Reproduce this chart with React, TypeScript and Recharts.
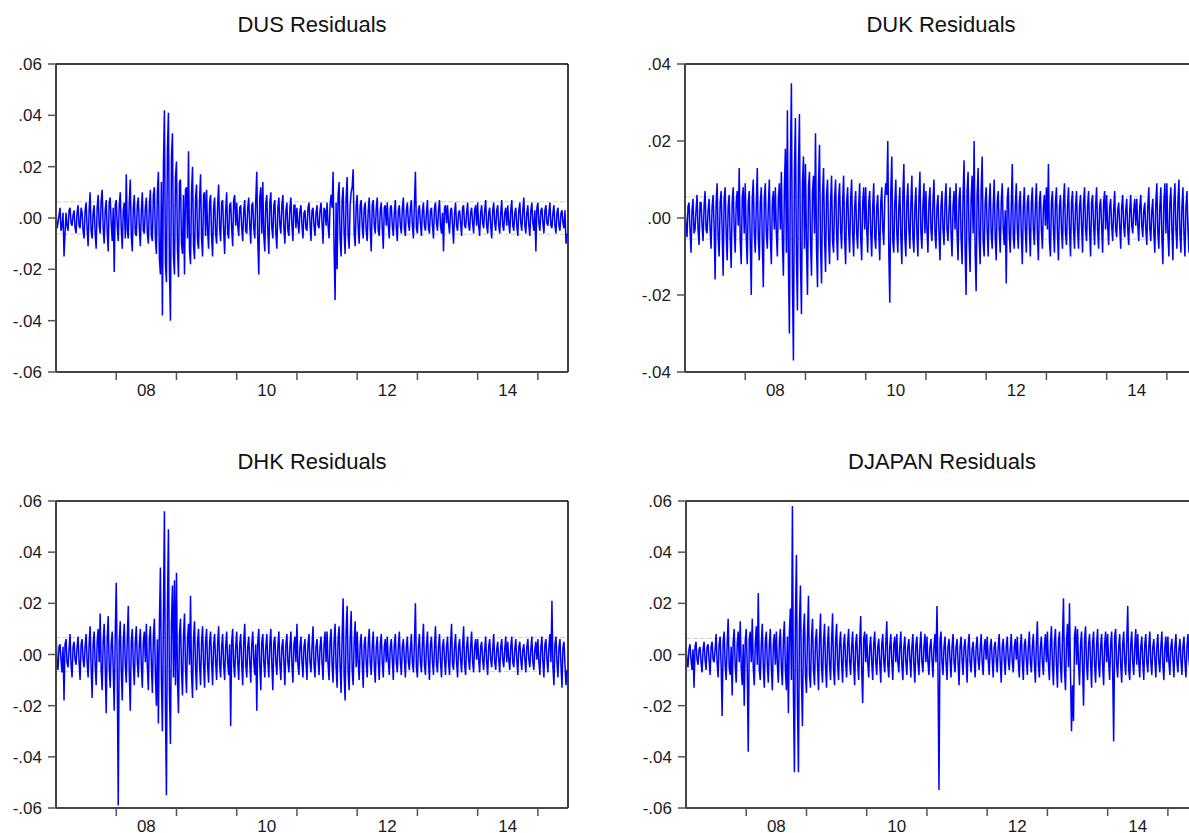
import React from 'react';
import { LineChart, Line, XAxis, YAxis, ReferenceLine } from 'recharts';

const FONT = '"Liberation Sans", Arial, sans-serif';
const START_YEAR = 2007;
const END_YEAR = 2015.5;
const PER_YEAR = 60; // traced points per year

// residuals in thousandths, one row = half a year (30 points), from 2007
const dusResiduals = [
  3, -4, -2, 1, 4, -5, -3, 2, -15, -6, 2, -3, -5, 3, 4, -2, -3, 1, 3, -4, -6, 2, 5, -3, -4, 4, 2, -5, -8, 3,
  6, -4, -11, 3, 10, -5, -8, 2, 5, -6, -12, 4, 9, -3, -6, 7, 11, -4, -10, 3, 7, -5, -13, 6, 8, -2, -9, 4, -21, 5,
  7, -3, -9, 5, 10, -4, -12, 3, 6, -8, 17, -5, -8, 6, 15, -7, -13, 4, 9, -6, -7, 5, 8, -4, -11, 3, 10, -5, -6, 4,
  8, -6, -10, 5, 11, -7, -9, 9, 12, -8, -14, 10, 18, -16, -22, 14, -38, 20, 42, -18, -25, 27, 41, -20, -40, 24, 33, -15, -22, 16,
  22, -12, -23, 14, 15, -10, -14, 9, -22, 11, 12, -8, 26, -13, -18, 10, 20, -11, -16, 8, 13, -9, -12, 7, 17, -8, -15, 9, 10, -7,
  11, -5, -12, 6, 9, -7, -15, 4, 8, -6, -10, 5, 13, -4, -9, 6, 7, -5, -14, 3, 10, -6, -8, 5, 6, -4, -11, 7, 9, -3,
  6, -3, -7, 4, 5, -4, -9, 3, 7, -5, -6, 4, 8, -3, -10, 5, 6, -4, -8, 7, 18, -9, -22, 8, 12, -6, 14, -7, -13, 6,
  9, -5, -14, 6, 10, -4, -8, 5, 7, -6, -12, 4, 8, -3, -6, 5, 9, -4, -10, 3, 6, -5, -7, 4, 8, -3, -9, 5, 5, -4,
  4, -2, -6, 3, 5, -3, -8, 2, 3, -4, -5, 4, 6, -2, -9, 3, 4, -3, -7, 2, 5, -3, -4, 3, 6, -2, -10, 4, 3, -3,
  6, -3, -8, 5, 9, 4, 18, -12, -32, 6, -20, 9, 14, -8, -15, 7, 12, -6, -14, 8, 16, -7, -12, 5, 10, 12, 19, -6, -11, 5,
  9, -4, -10, 5, 7, -3, -8, 4, 6, -5, -9, 3, 8, -4, -13, 5, 7, -3, -6, 4, 8, -5, -7, 3, 6, -4, -12, 4, 5, -3,
  6, -3, -8, 4, 5, -3, -7, 2, 7, -4, -9, 3, 5, -3, -6, 4, 8, -4, -7, 3, 6, -2, -5, 4, 7, -3, -8, 5, 18, -4,
  -6, 3, 5, -2, -7, 3, 6, -3, -5, 2, 7, -4, -6, 3, 4, -3, -8, 4, 6, -2, -5, 3, 7, -3, -6, 2, -13, 4, 5, -2,
  5, -2, -6, 3, 4, -3, -10, 2, 6, -3, -5, 2, 3, -2, -7, 4, 5, -3, -4, 2, 6, -3, -5, 2, 4, -2, -6, 3, 5, -3,
  6, -3, -7, 2, 5, -2, -4, 3, 7, -3, -6, 2, 4, -3, -8, 3, 6, -2, -5, 3, 5, -3, -6, 2, 7, -3, -5, 2, 4, -3,
  5, -2, -6, 3, 7, -3, -5, 2, 4, -3, -7, 3, 6, -2, -5, 3, 8, -3, -6, 2, 5, -3, -7, 3, 6, -2, -5, 3, -13, 4,
  6, -2, -5, 3, 4, -2, -6, 3, 5, -2, -3, 2, 6, -3, -4, 2, 5, -3, -6, 2, 4, -3, -5, 2, 3, -2, -4, 3, -10, -6,
];

const dukResiduals = [
  3, -2, -5, 3, 4, -3, -9, 2, 5, -4, -3, 2, 6, -3, -7, 4, 4, -2, -6, 3, 7, -3, -4, 2, 5, -3, -8, 3, 6, -2,
  -16, 4, 9, -5, -10, 4, 7, -3, -15, 5, 8, -4, -11, 3, 6, -5, -13, 4, 8, -3, -9, 4, 7, -2, 13, -6, -12, 5, 8, -4,
  9, -5, -12, 4, 7, -6, -20, 5, 10, -4, -9, 3, 13, -5, -11, 4, 8, -6, -18, 5, 9, -4, -8, 3, 10, -5, -12, 4, 7, -3,
  8, -4, -10, 5, 9, -3, 12, -6, -15, 8, 18, -9, 28, -12, -30, 14, 35, -16, -37, 12, 26, -10, -24, 13, 27, -11, -25, 9, 16, -8,
  14, -7, -20, 8, 12, -6, -15, 7, 11, -4, 22, -8, -18, 9, 19, -7, -17, 6, 13, -5, -14, 6, 10, -5, -12, 4, 11, -6, -9, 5,
  10, -4, -11, 5, 9, -3, -8, 4, 11, -5, -12, 4, 8, -3, -9, 5, 10, -4, -10, 3, 7, -4, -8, 3, 9, -5, -11, 4, 8, -3,
  8, -3, -9, 4, 7, -4, -10, 3, 9, -5, -8, 3, 6, -4, -11, 4, 8, -3, -7, 5, 9, 6, 20, -9, -22, 7, 16, -6, -9, 4,
  10, -4, -9, 3, 8, -5, -12, 6, 14, -5, -10, 4, 9, -3, -8, 4, 11, -5, -9, 3, 8, -4, -10, 5, 12, -4, -8, 3, 9, -4,
  7, -3, -9, 4, 8, -3, -6, 4, 10, -4, -8, 3, 6, -4, -11, 3, 7, -3, -7, 4, 9, -3, -6, 2, 8, -4, -10, 3, 7, -3,
  9, -4, -11, 5, 8, -5, -12, 6, 15, -8, -20, 7, 12, -6, -14, 5, 11, -4, 20, -9, -19, 6, 13, -5, -12, 7, 16, -6, -10, 4,
  8, -3, -10, 4, 9, -4, -8, 3, 10, -5, -11, 4, 7, -3, -9, 4, 9, -3, -7, 2, -17, 5, 8, -4, -9, 3, 14, -5, -8, 3,
  9, -3, -8, 4, 7, -4, -12, 3, 8, -3, -9, 4, 6, -3, -10, 4, 8, -3, -7, 3, 9, -4, -11, 4, 7, -3, -8, 3, 6, -2,
  8, -3, 14, -6, -10, 4, 7, -3, -9, 4, 8, -4, -11, 3, 6, -3, -8, 4, 9, -4, -7, 3, 8, -3, -10, 4, 7, -3, -8, 3,
  7, -3, -8, 3, 6, -2, -9, 4, 8, -3, -6, 3, 7, -3, -10, 4, 6, -2, -7, 3, 8, -3, -8, 3, 5, -2, -9, 4, 7, -3,
  6, -2, -7, 3, 5, -2, -6, 2, 7, -3, -5, 2, 4, -2, -8, 3, 6, -2, -5, 2, 5, -3, -7, 2, 6, -2, -4, 2, 5, -2,
  5, -2, -6, 3, 6, -2, -5, 2, 4, -3, -7, 3, 8, -3, -6, 2, 5, -4, -9, 4, 9, -4, -8, 3, 8, -5, -12, 4, 9, -4,
  9, -4, -10, 4, 8, -3, -11, 4, 9, -3, -8, 4, 10, -4, -9, 3, 8, -4, -10, 3, 7, -3, -9, 4, 9, -3, -6, 4, 10, -4,
];

const dhkResiduals = [
  10, -3, -6, 3, 4, -2, -7, 3, -18, 4, 6, -3, -5, 2, 8, -4, -9, 3, 5, -2, -4, 3, 7, -3, -10, 4, 6, -2, -5, 3,
  8, -3, -9, 4, 11, -5, -17, 4, 9, -4, -12, 5, 10, -3, 16, -6, -14, 5, 12, -4, -23, 6, 15, -5, -13, 4, 9, -6, -22, 7,
  28, -6, -59, 5, 13, -6, -18, 5, 12, -4, -11, 6, 19, -7, -22, 5, 10, -4, -12, 5, 11, -3, -9, 4, 10, -4, -13, 5, 9, -3,
  12, -5, -14, 6, 11, -4, -15, 7, 14, -8, -20, 6, -27, 12, 34, -10, -30, 15, 56, -20, -55, 18, 49, -15, -35, 12, 27, -9, 29, -12,
  32, -10, -23, 8, 14, -6, -16, 7, 16, -5, -15, 6, 12, -4, 23, -8, -17, 6, 13, -5, -14, 5, 10, -4, -12, 5, 11, -4, -13, 5,
  10, -4, -11, 5, 9, -3, -12, 4, 8, -3, -10, 4, 11, -4, -9, 3, 8, -4, -10, 3, 9, -3, -8, 4, -28, 5, 10, -4, -9, 3,
  9, -3, -10, 4, 8, -4, -12, 5, 12, -4, -9, 3, 7, -3, -11, 4, 9, -3, -8, 4, -22, 5, 10, -4, -14, 5, 8, -3, -9, 3,
  8, -3, -9, 4, 10, -4, -14, 5, 7, -3, -8, 3, 9, -4, -10, 3, 6, -3, -12, 4, 8, -3, -7, 3, 9, -4, -11, 4, 7, -3,
  12, -4, -8, 3, 7, -3, -9, 3, 6, -3, -10, 4, 8, -3, -7, 3, 11, -4, -9, 3, 6, -2, -8, 3, 7, -3, -10, 4, 9, -3,
  9, -4, -10, 5, 10, -4, -11, 5, 12, -5, -13, 6, 11, -5, -15, 7, 22, -8, -18, 9, 19, -7, -14, 6, 17, -6, -12, 5, 13, -5,
  9, -3, -10, 4, 8, -3, -13, 4, 7, -3, -9, 4, 10, -3, -8, 3, 9, -4, -11, 3, 7, -3, -10, 4, 8, -3, -9, 3, 6, -3,
  7, -3, -8, 3, 6, -2, -10, 4, 8, -3, -7, 3, 9, -3, -8, 3, 6, -2, -9, 3, 7, -3, -6, 2, 8, -3, -7, 4, 20, -5,
  -9, 3, 8, -3, -7, 4, 12, -4, -8, 3, 9, -3, -10, 4, 7, -3, -8, 3, 11, -4, -7, 3, 8, -3, -9, 3, 6, -2, -8, 3,
  7, -3, -8, 4, 12, -4, -6, 3, 8, -3, -9, 3, 6, -2, -7, 3, 11, -4, -8, 3, 7, -2, -6, 3, 9, -3, -7, 3, 6, -2,
  6, -2, -7, 3, 5, -2, -6, 2, 7, -3, -8, 3, 6, -2, -5, 2, 8, -3, -6, 2, 5, -2, -7, 3, 6, -2, -5, 2, 7, -3,
  5, -2, -6, 3, 7, -3, -5, 2, 6, -2, -8, 3, 5, -2, -6, 2, 4, -2, -7, 3, 6, -2, -5, 2, 7, -3, -6, 2, 5, -2,
  6, -3, -8, 3, 7, -3, -9, 4, 6, -2, -7, 3, 8, -3, 21, -5, -12, 4, 7, -3, -9, 3, 6, -4, -13, 3, 5, -4, -12, -6,
];

const djapanResiduals = [
  3, -2, -5, 2, 4, -2, -6, 2, -13, 3, 5, -2, -4, 2, 3, -3, -7, 2, 5, -2, -6, 3, 4, -2, -8, 3, 5, -2, -3, 2,
  8, -3, -9, 4, 7, -4, -24, 5, 9, -4, -10, 4, 14, -5, -8, 3, -16, 5, 10, -4, -11, 4, 9, -3, 13, -5, -12, 4, -20, 5,
  10, -5, -38, 6, 9, -3, 14, -5, -12, 4, 11, -4, 24, -6, -10, 4, 12, -5, -13, 5, 9, -4, -11, 4, 10, -5, -14, 4, 8, -4,
  9, -4, -11, 5, 10, -5, -12, 6, 13, -6, -14, 7, -23, 9, 18, -10, 58, -15, -46, 14, 39, -18, -46, 12, 27, -10, -28, 9, 16, -8,
  -15, 7, 23, -8, -13, 6, 14, -6, -12, 5, 10, -4, -14, 6, 16, -5, -11, 5, 12, -5, -13, 4, 11, -4, -10, 5, 16, -6, -12, 5,
  12, -4, -10, 4, 9, -3, -11, 4, 8, -3, -9, 4, 10, -3, -8, 3, 9, -4, -12, 4, 8, -3, -10, 5, 15, -6, -19, 6, 9, -3,
  8, -3, -9, 3, 7, -3, -10, 4, 9, -3, -8, 3, 6, -3, -11, 4, 8, -3, -7, 4, 13, -4, -9, 3, 8, -3, -10, 4, 7, -3,
  8, -3, -7, 3, 9, -4, -10, 3, 7, -3, -8, 3, 6, -2, -9, 3, 8, -4, -11, 4, 7, -3, -8, 3, 9, -3, -7, 3, 8, -3,
  7, -3, -8, 3, 6, -2, -9, 3, 8, -3, 19, -6, -53, 5, 9, -3, -8, 3, 7, -3, -10, 3, 6, -2, -9, 3, 8, -3, -7, 3,
  6, -3, -12, 3, 7, -2, -8, 3, 6, -2, -11, 3, 8, -3, -7, 2, 5, -2, -9, 3, 7, -2, -6, 2, 8, -3, -8, 3, 6, -2,
  7, -2, -8, 3, 6, -2, -9, 3, 5, -2, -7, 3, 8, -3, -11, 3, 6, -2, -8, 3, 7, -2, -6, 2, 8, -3, -7, 3, 6, -2,
  7, -3, -9, 3, 8, -3, -10, 4, 6, -2, -8, 3, 9, -3, -7, 3, 8, -3, -11, 4, 13, -4, -9, 3, 7, -3, -8, 3, 8, -3,
  9, -4, -10, 4, 11, -4, -12, 5, 10, -4, -13, 5, 9, -4, -11, 6, 22, -6, -14, 5, 12, -5, 20, -8, -30, -12, -26, 7, 11, -4,
  10, -4, -12, 4, 9, -5, -20, 6, 11, -4, -10, 4, 8, -3, -13, 5, 9, -4, -11, 4, 10, -4, -9, 3, 8, -4, -12, 4, 9, -3,
  8, -3, -10, 4, 9, -6, -34, 7, 10, -4, -9, 3, 8, -4, -11, 4, 9, -3, -8, 5, 19, -6, -10, 4, 9, -3, -8, 3, 10, -4,
  8, -3, -9, 3, 7, -3, -10, 4, 8, -3, -7, 3, 9, -3, -8, 3, 6, -2, -9, 3, 8, -3, -7, 3, 9, -4, -10, 3, 7, -3,
  7, -3, -8, 3, 6, -2, -9, 3, 8, -3, -7, 2, 6, -2, -8, 3, 7, -3, -9, 3, 8, -2, -6, 2, 7, -3, -8, -4, -11, -5,
];

const titles = ['DUS Residuals', 'DUK Residuals', 'DHK Residuals', 'DJAPAN Residuals'];
// +/- one standard error, thousandths
const seBands = [6.3, 5.5, 6.6, 6.3];
const yTicksWide = [-60, -40, -20, 0, 20, 40, 60];
const yTicksUk = [-40, -20, 0, 20, 40];
const yearTicks = [2008, 2009, 2010, 2011, 2012, 2013, 2014, 2015];
const yearLabels = [2008, 2010, 2012, 2014];

const AXIS_W = 56;
const PAD_TOP = 10;
const X_AXIS_H = 40;
const PLOT_W = 512;

const fmtY = (v: number) => {
  if (v === 0) return '.00';
  const s = (v / 1000).toFixed(2);
  return s.replace('0.', '.');
};

function YearTick(props: any) {
  const { x, y, payload } = props;
  const v = payload.value as number;
  if (Number.isInteger(v)) {
    return <line x1={x} x2={x} y1={y} y2={y + 8} stroke="#555" strokeWidth={1.5} />;
  }
  return (
    <text x={x} y={y + 24} textAnchor="middle" fontSize={17} fontFamily={FONT} fill="#1a1a1a">
      {String(Math.floor(v)).slice(2)}
    </text>
  );
}

interface PanelProps {
  title: string;
  values: number[];
  ticks: number[];
  se: number;
  left: number;
  top: number;
  height: number;
}

function Panel({ title, values, ticks, se, left, top, height }: PanelProps) {
  const data = values.map((v, i) => ({ t: START_YEAR + i / PER_YEAR, v }));
  const yMax = ticks[ticks.length - 1];
  const xTicks = [...yearTicks, ...yearLabels.map((y) => y + 0.5)].sort((a, b) => a - b);
  return (
    <>
      <div
        style={{
          position: 'absolute',
          left,
          top: top - 50,
          width: PLOT_W,
          textAlign: 'center',
          fontSize: 22,
          lineHeight: '21px',
          color: '#111',
        }}
      >
        {title}
      </div>
      <div style={{ position: 'absolute', left: left - AXIS_W, top: top - PAD_TOP }}>
        <LineChart
          width={PLOT_W + AXIS_W + 4}
          height={height + PAD_TOP + X_AXIS_H}
          data={data}
          margin={{ top: PAD_TOP, right: 4, bottom: 0, left: 0 }}
        >
          <XAxis
            dataKey="t"
            type="number"
            domain={[START_YEAR, END_YEAR]}
            ticks={xTicks}
            interval={0}
            height={X_AXIS_H}
            tickSize={0}
            tickMargin={0}
            tickLine={false}
            axisLine={{ stroke: '#444', strokeWidth: 2 }}
            tick={<YearTick />}
            allowDataOverflow
          />
          <YAxis
            type="number"
            domain={[ticks[0], yMax]}
            ticks={ticks}
            interval={0}
            width={AXIS_W}
            tickSize={8}
            tickMargin={6}
            tickFormatter={fmtY}
            tick={{ fontSize: 17, fill: '#1a1a1a', fontFamily: FONT }}
            tickLine={{ stroke: '#555', strokeWidth: 1.5 }}
            axisLine={{ stroke: '#444', strokeWidth: 2 }}
            allowDataOverflow
          />
          <ReferenceLine y={se} stroke="#cfcfcf" strokeDasharray="5 2" />
          <ReferenceLine y={-se} stroke="#cfcfcf" strokeDasharray="5 2" />
          <ReferenceLine y={yMax} stroke="#000" strokeWidth={1.5} />
          <ReferenceLine x={END_YEAR} stroke="#000" strokeWidth={1.5} />
          <Line
            dataKey="v"
            type="linear"
            stroke="#0000ff"
            strokeWidth={1.5}
            dot={false}
            isAnimationActive={false}
          />
        </LineChart>
      </div>
    </>
  );
}

export default function App() {
  return (
    <div
      style={{
        position: 'absolute',
        left: 0,
        top: 0,
        width: 1189,
        height: 833,
        overflow: 'hidden',
        background: '#fff',
        fontFamily: FONT,
      }}
    >
      <Panel title={titles[0]} values={dusResiduals} ticks={yTicksWide} se={seBands[0]} left={56} top={64} height={308} />
      <Panel title={titles[1]} values={dukResiduals} ticks={yTicksUk} se={seBands[1]} left={685} top={64} height={308} />
      <Panel title={titles[2]} values={dhkResiduals} ticks={yTicksWide} se={seBands[2]} left={56} top={501} height={307} />
      <Panel title={titles[3]} values={djapanResiduals} ticks={yTicksWide} se={seBands[3]} left={686} top={501} height={307} />
    </div>
  );
}
